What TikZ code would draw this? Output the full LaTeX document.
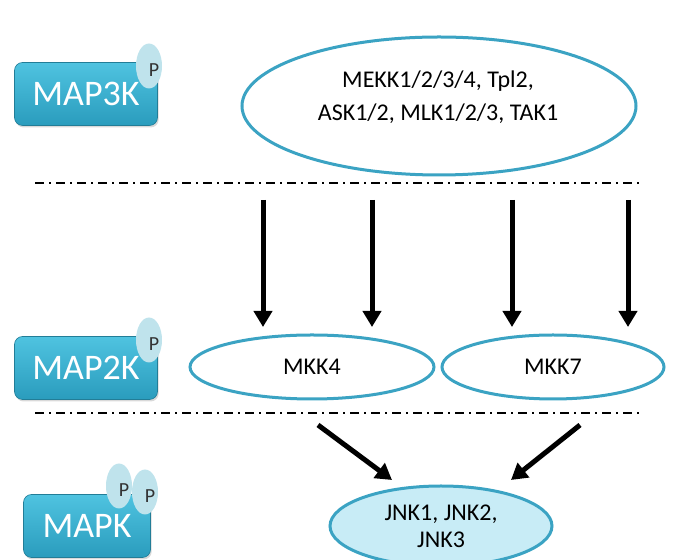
\documentclass[tikz,border=0pt]{standalone}
\usepackage{fontspec}
\setmainfont{Carlito}
\usepackage{xcolor}
\definecolor{kinasetop}{HTML}{4FC3E0}
\definecolor{kinasebot}{HTML}{2A9CBD}
\definecolor{rimteal}{HTML}{3BA3C3}
\definecolor{phospho}{HTML}{BFE3EC}
\definecolor{jnkfill}{HTML}{C8ECF6}
\usepackage{tikz}
\usetikzlibrary{arrows.meta, shapes.geometric, shadows}

\tikzset{
	kinase/.style={rounded corners=4pt, top color=kinasetop, bottom color=kinasebot,
		draw=kinasebot!80!black, line width=0.3pt, text=white, font=\fontsize{18}{18}\selectfont,
		minimum width=71.5pt, minimum height=31.5pt, inner sep=0pt,
		drop shadow={shadow xshift=0.6pt, shadow yshift=-1pt, opacity=0.3}},
	phos/.style={ellipse, fill=phospho, minimum width=13pt, minimum height=22.5pt, inner sep=0pt},
	ptext/.style={text=black!80, inner sep=0pt, font=\fontsize{10}{10}\selectfont},
	family/.style={ellipse, draw=rimteal, line width=1.5pt, fill=white, inner sep=0pt,
		align=center, font=\fontsize{12}{13.5}\selectfont},
	layer/.style={line width=1pt, dash pattern=on 4.5pt off 2.5pt on 1pt off 2.5pt},
	act/.style={line width=2.5pt, -{Triangle[length=8pt, width=9pt]}}
}

\begin{document}
\begin{tikzpicture}[x=0.5pt, y=-0.5pt]
	\useasboundingbox (0,0) rectangle (681,560);
	
	% kinase tiers
	\node[kinase] (map3k) at (86, 94) {MAP3K};
	\node[phos] (p3) at (149, 66) {};
	\node[ptext] at ([xshift=2.5pt, yshift=-2.2pt]p3.center) {P};
	\node[kinase] (map2k) at (86, 368) {MAP2K};
	\node[phos] (p2) at (149, 340) {};
	\node[ptext] at ([xshift=2.5pt, yshift=-2.2pt]p2.center) {P};
	\node[kinase, minimum width=63.5pt] (mapk) at (87, 526) {MAPK};
	\node[phos] (pa) at (119, 486) {};
	\node[ptext] at ([xshift=2.5pt, yshift=-2.2pt]pa.center) {P};
	\node[phos] (pb) at (145, 492) {};
	\node[ptext] at ([xshift=2.5pt, yshift=-2.2pt]pb.center) {P};
	
	% family members
	\node[family, minimum width=197pt, minimum height=69pt] (mekk) at (439, 106) {};
	\node[family, draw=none, fill=none, font=\fontsize{12}{16.5}\selectfont] (mekklist) at (438, 97.5)
		{MEKK1/2/3/4, Tpl2,\\ASK1/2, MLK1/2/3, TAK1};
	\node[family, minimum width=122pt, minimum height=32pt] (mkk4) at (312, 367) {MKK4};
	\node[family, minimum width=111pt, minimum height=32pt] (mkk7) at (553, 367) {MKK7};
	\node[family, fill=jnkfill, minimum width=111pt, minimum height=40pt] (jnk) at (441, 526)
		{JNK1, JNK2,\\JNK3};
	
	% tier separators
	\draw[layer] (35, 183) -- (641, 183);
	\draw[layer] (35, 413) -- (641, 413);
	
	% MAP3K -> MAP2K
	\foreach \x [count=\i] in {263, 372, 512, 628} {
		\coordinate (s\i) at (\x, 200);
		\coordinate (e\i) at (\x, 327);
		\draw[act] (s\i) -- (e\i);
	}
	
	% MAP2K -> MAPK
	\coordinate (a4) at (318, 425);
	\coordinate (a7) at (580, 425);
	\draw[act] (a4) -- (392, 480);
	\draw[act] (a7) -- (511, 480);
\end{tikzpicture}
\end{document}
